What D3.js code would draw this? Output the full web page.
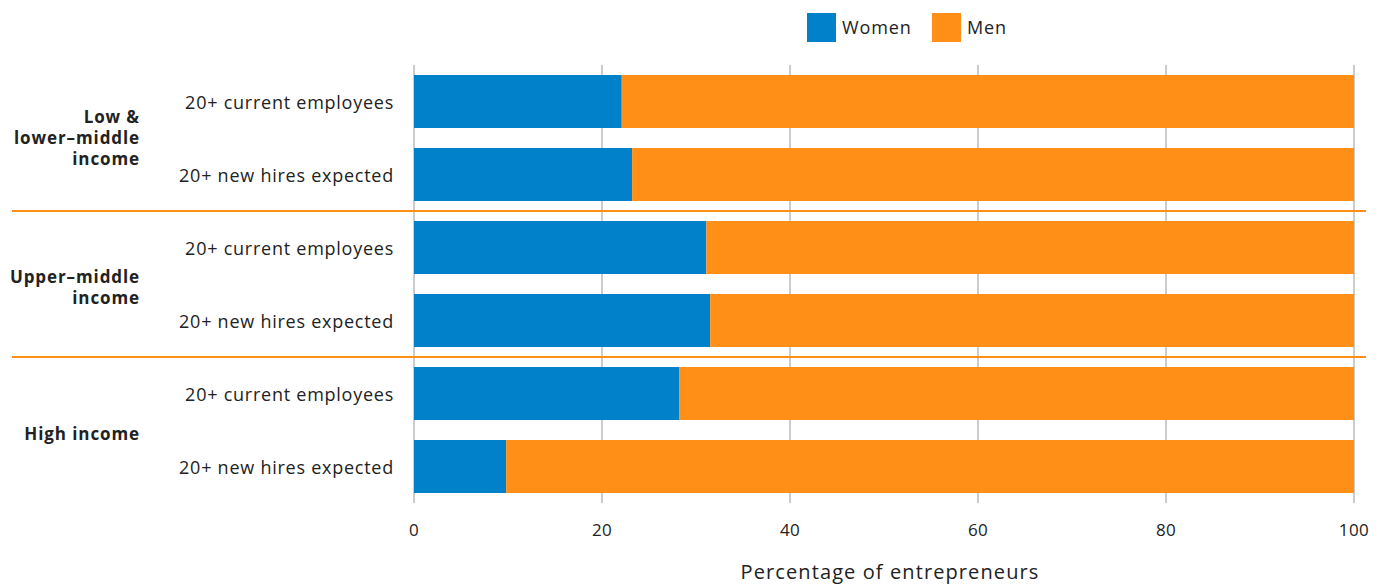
<!DOCTYPE html>
<html>
<head>
<meta charset="utf-8">
<script src="https://cdn.jsdelivr.net/npm/d3@7"></script>
<style>
  html, body { margin: 0; padding: 0; background: #fff; }
  svg { display: block; font-family: "Open Sans", "DejaVu Sans", sans-serif; }
</style>
</head>
<body>
<svg id="chart" width="1381" height="584"></svg>
<script>
const groups = ["Low &\nlower–middle\nincome", "Upper–middle\nincome", "High income"];
const rowLabels = ["20+ current employees", "20+ new hires expected"];
const women = [22.1, 23.2, 31.1, 31.5, 28.2, 9.8];
const men = [77.9, 76.8, 68.9, 68.5, 71.8, 90.2];
const seriesNames = ["Women", "Men"];
const colors = ["#0081CA", "#FF8F17"];
const xTicks = [0, 20, 40, 60, 80, 100];
const xTitle = "Percentage of entrepreneurs";

const rows = [];
groups.forEach((g, gi) => rowLabels.forEach((r, ri) => {
  const i = gi * 2 + ri;
  rows.push({ id: i, group: gi, label: r, women: women[i], men: men[i] });
}));

const svg = d3.select("#chart");
const x = d3.scaleLinear().domain([0, 100]).range([414, 1354]);
const y = d3.scaleBand().domain(rows.map(d => d.id)).range([65, 503])
  .paddingInner(0.274).paddingOuter(0.137);

// gridlines
svg.append("g").selectAll("line").data(xTicks).join("line")
  .attr("x1", d => x(d)).attr("x2", d => x(d))
  .attr("y1", 65).attr("y2", 503)
  .attr("stroke", "#cccccc").attr("stroke-width", 2);

// stacked bars
const stack = d3.stack().keys(["women", "men"]);
const stacked = stack(rows);
svg.append("g").selectAll("g").data(stacked).join("g")
  .attr("fill", (d, i) => colors[i])
  .selectAll("rect").data(d => d).join("rect")
  .attr("x", d => x(d[0]))
  .attr("width", d => x(d[1]) - x(d[0]))
  .attr("y", d => y(d.data.id))
  .attr("height", y.bandwidth());

// separators between groups
const seps = [1, 2].map(gi => (y(gi * 2) + y(gi * 2 - 1) + y.bandwidth()) / 2);
svg.append("g").selectAll("line").data(seps).join("line")
  .attr("x1", 12).attr("x2", 1366)
  .attr("y1", d => d).attr("y2", d => d)
  .attr("stroke", "#FF8F17").attr("stroke-width", 2);

// row labels
svg.append("g").selectAll("text").data(rows).join("text")
  .attr("x", 394).attr("y", d => y(d.id) + y.bandwidth() / 2 + 1)
  .attr("dy", "0.35em").attr("text-anchor", "end")
  .attr("font-size", 18).attr("letter-spacing", "0.75px").attr("fill", "#222")
  .text(d => d.label);

// group labels
const gl = svg.append("g").selectAll("text").data(groups).join("text")
  .attr("text-anchor", "end").attr("font-size", 17).attr("font-weight", "bold")
  .attr("letter-spacing", "0.9px").attr("fill", "#222");
gl.each(function(g, gi) {
  const lines = g.split("\n");
  const cy = (y(gi * 2) + y(gi * 2 + 1) + y.bandwidth()) / 2 + (gi === 0 ? 0 : 4);
  const lh = 21;
  const t0 = cy - (lines.length - 1) * lh / 2;
  d3.select(this).selectAll("tspan").data(lines).join("tspan")
    .attr("x", 140).attr("y", (d, i) => t0 + i * lh).attr("dy", "0.35em")
    .text(d => d);
});

// x axis tick labels
svg.append("g").selectAll("text").data(xTicks).join("text")
  .attr("x", d => x(d)).attr("y", 530).attr("dy", "0.35em")
  .attr("text-anchor", "middle").attr("font-size", 17).attr("letter-spacing", "0.4px").attr("fill", "#222")
  .text(d => d);

svg.append("text").attr("x", 890).attr("y", 572).attr("dy", "0.35em")
  .attr("text-anchor", "middle").attr("font-size", 20).attr("letter-spacing", "1.1px").attr("fill", "#222")
  .text(xTitle);

// legend
const legendX = [807, 932];
const lg = svg.append("g").selectAll("g").data(seriesNames).join("g")
  .attr("transform", (d, i) => `translate(${legendX[i]},13)`);
lg.append("rect").attr("width", 29).attr("height", 29).attr("fill", (d, i) => colors[i]);
lg.append("text").attr("x", 35).attr("y", 14.5).attr("dy", "0.35em")
  .attr("font-size", 18).attr("letter-spacing", "0.9px").attr("fill", "#222").text(d => d);
</script>
</body>
</html>
